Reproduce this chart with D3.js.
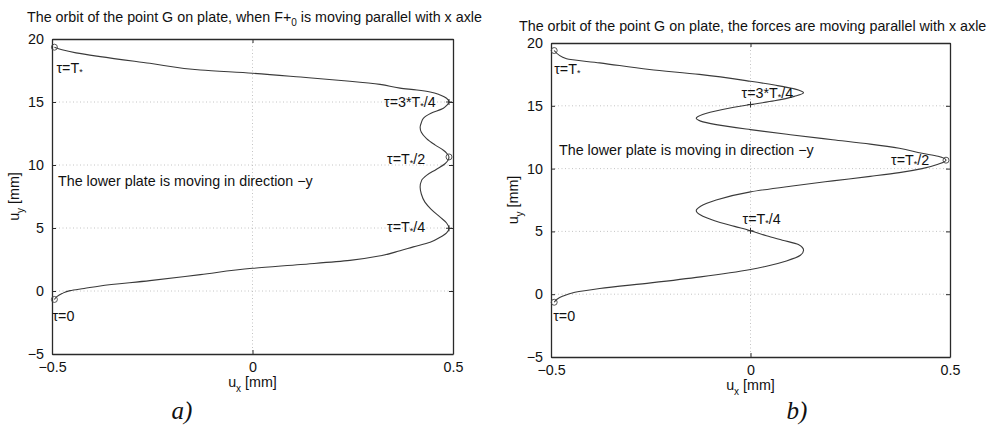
<!DOCTYPE html>
<html><head><meta charset="utf-8">
<script src="https://cdn.jsdelivr.net/npm/d3@7"></script>
<style>
  body { margin: 0; background: #fff; }
  svg { display: block; font-family: "Liberation Sans", Arial, Helvetica, sans-serif; }
</style></head>
<body>
<svg id="chart" width="989" height="432"></svg>
<script>
// Axis ticks shared by both plots
const xTicks = [-0.5, 0, 0.5];
const yTicks = [-5, 0, 5, 10, 15, 20];
const xDomain = [-0.5, 0.5];
const yDomain = [-5, 20];

// a) orbit of point G when F+0 moves parallel with the x axle
const orbitA_ux = [-0.494, -0.488, -0.475, -0.455, -0.42, -0.38, -0.256, -0.13, 0.0, 0.12, 0.243, 0.32, 0.368, 0.401, 0.443, 0.468, 0.484, 0.49,
  0.484, 0.468, 0.445, 0.43, 0.421, 0.418, 0.422, 0.434, 0.458, 0.48, 0.49,
  0.484, 0.476, 0.455, 0.434, 0.421, 0.418, 0.421, 0.426, 0.445, 0.476, 0.484, 0.49,
  0.484, 0.468, 0.443, 0.41, 0.368, 0.318, 0.243, 0.12, 0.0, -0.13, -0.256, -0.38, -0.44, -0.475, -0.494];
const orbitA_uy = [-0.67, -0.45, -0.2, 0.03, 0.2, 0.4, 0.82, 1.3, 1.8, 2.1, 2.43, 2.8, 3.2, 3.5, 3.87, 4.27, 4.62, 4.98,
  5.4, 5.86, 6.5, 7.05, 7.7, 8.25, 8.8, 9.18, 9.65, 10.1, 10.64,
  10.95, 11.17, 11.6, 12.1, 12.6, 13.0, 13.35, 13.7, 14.1, 14.5, 14.72, 15.0,
  15.3, 15.55, 15.8, 15.95, 16.1, 16.4, 16.65, 16.98, 17.28, 17.54, 18.07, 18.6, 18.9, 19.15, 19.35];

// b) orbit of point G when the forces move parallel with the x axle
const orbitB_ux = [-0.492, -0.485, -0.47, -0.44, -0.378, -0.25, -0.125, 0.0, 0.04, 0.09, 0.125, 0.133, 0.12, 0.08, 0.04, 0.0, -0.04, -0.09, -0.125, -0.136,
  -0.125, -0.086, 0.0, 0.1, 0.206, 0.3, 0.373, 0.43, 0.47, 0.49,
  0.47, 0.43, 0.373, 0.3, 0.206, 0.1, 0.0, -0.086, -0.125, -0.136, -0.12, -0.07, 0.0, 0.06, 0.11, 0.133,
  0.11, 0.06, 0.0, -0.128, -0.253, -0.378, -0.461, -0.492];
const orbitB_uy = [-0.64, -0.4, -0.15, 0.15, 0.45, 0.9, 1.38, 1.97, 2.23, 2.65, 3.1, 3.5, 3.95, 4.3, 4.65, 5.05, 5.4, 5.85, 6.3, 6.65,
  7.0, 7.5, 8.15, 8.6, 9.02, 9.38, 9.68, 10.0, 10.35, 10.67,
  10.98, 11.22, 11.62, 11.95, 12.3, 12.7, 13.1, 13.5, 13.78, 14.0, 14.3, 14.7, 15.1, 15.4, 15.75, 16.03,
  16.35, 16.65, 16.95, 17.5, 17.89, 18.42, 18.74, 19.4];

// Characteristic instants on each orbit: τ = 0, T*/4, T*/2, 3T*/4, T*
const eventsA = [
  { ux: -0.494, uy: -0.67, mark: "circle", label: ["τ=0"], dx: -2, dy: 22 },
  { ux: 0.49, uy: 4.98, mark: "plus", label: ["τ=T", "*", "/4"], dx: -62, dy: 4 },
  { ux: 0.49, uy: 10.64, mark: "circle", label: ["τ=T", "*", "/2"], dx: -62, dy: 7 },
  { ux: 0.49, uy: 15.0, mark: "plus", label: ["τ=3*T", "*", "/4"], dx: -65, dy: 5 },
  { ux: -0.494, uy: 19.35, mark: "circle", label: ["τ=T", "*", ""], dx: 2, dy: 26 }
];
const eventsB = [
  { ux: -0.492, uy: -0.64, mark: "circle", label: ["τ=0"], dx: -1, dy: 19 },
  { ux: 0.0, uy: 5.05, mark: "plus", label: ["τ=T", "*", "/4"], dx: -8, dy: -7 },
  { ux: 0.49, uy: 10.67, mark: "circle", label: ["τ=T", "*", "/2"], dx: -55, dy: 5 },
  { ux: 0.0, uy: 15.1, mark: "plus", label: ["τ=3*T", "*", "/4"], dx: -9, dy: -7 },
  { ux: -0.492, uy: 19.4, mark: "circle", label: ["τ=T", "*", ""], dx: 0, dy: 23 }
];

const FS = 14.3;
const svg = d3.select("#chart");

function drawPanel(p) {
  const x = d3.scaleLinear().domain(xDomain).range([p.left, p.right]);
  const y = d3.scaleLinear().domain(yDomain).range([p.bottom, p.top]);
  const g = svg.append("g");

  // dotted grid
  g.append("g").selectAll("line").data(xTicks.filter(t => t > xDomain[0] && t < xDomain[1])).join("line")
    .attr("x1", d => x(d)).attr("x2", d => x(d)).attr("y1", p.top).attr("y2", p.bottom)
    .attr("stroke", "#b5b5b5").attr("stroke-width", 0.8).attr("stroke-dasharray", "1,2.5");
  g.append("g").selectAll("line").data(yTicks.filter(t => t > yDomain[0] && t < yDomain[1])).join("line")
    .attr("x1", p.left).attr("x2", p.right).attr("y1", d => y(d)).attr("y2", d => y(d))
    .attr("stroke", "#b5b5b5").attr("stroke-width", 0.8).attr("stroke-dasharray", "1,2.5");

  // axes with inward ticks on all four sides
  const fmt = d => d3.format("")(d);
  const tk = 4;
  const axB = g.append("g").attr("transform", `translate(0,${p.bottom})`)
    .call(d3.axisBottom(x).tickValues(xTicks).tickSizeInner(-tk).tickSizeOuter(0).tickPadding(9).tickFormat(fmt));
  const axT = g.append("g").attr("transform", `translate(0,${p.top})`)
    .call(d3.axisTop(x).tickValues(xTicks).tickSizeInner(-tk).tickSizeOuter(0).tickFormat(""));
  const axL = g.append("g").attr("transform", `translate(${p.left},0)`)
    .call(d3.axisLeft(y).tickValues(yTicks).tickSizeInner(-tk).tickSizeOuter(0).tickPadding(8).tickFormat(fmt));
  const axR = g.append("g").attr("transform", `translate(${p.right},0)`)
    .call(d3.axisRight(y).tickValues(yTicks).tickSizeInner(-tk).tickSizeOuter(0).tickFormat(""));
  [axB, axT, axL, axR].forEach(a => {
    a.select(".domain").attr("stroke", "#2a2a2a").attr("stroke-width", 1.3);
    a.selectAll(".tick line").attr("stroke", "#2a2a2a").attr("stroke-width", 1);
    a.selectAll("text").attr("font-size", FS).attr("fill", "#111").attr("font-family", "inherit");
  });
  axB.selectAll("text").attr("dy", "0.6em");

  // orbit
  const pts = p.ux.map((v, i) => [v, p.uy[i]]);
  g.append("path").datum(pts)
    .attr("d", d3.line().x(d => x(d[0])).y(d => y(d[1])).curve(d3.curveMonotoneY))
    .attr("fill", "none").attr("stroke", "#3a3a3a").attr("stroke-width", 1.1);

  // event markers and labels
  p.events.forEach(e => {
    const cx = x(e.ux), cy = y(e.uy);
    if (e.mark === "circle") {
      g.append("circle").attr("cx", cx).attr("cy", cy).attr("r", 3)
        .attr("fill", "none").attr("stroke", "#444").attr("stroke-width", 0.9);
    } else {
      g.append("path").attr("d", `M${cx - 3},${cy}H${cx + 3}M${cx},${cy - 3}V${cy + 3}`)
        .attr("stroke", "#333").attr("stroke-width", 1);
    }
    const t = g.append("text").attr("x", cx + e.dx).attr("y", cy + e.dy)
      .attr("font-size", FS).attr("fill", "#111");
    t.append("tspan").text(e.label[0]);
    if (e.label.length > 1) {
      t.append("tspan").attr("font-size", 9).attr("dy", 2).text(e.label[1]);
      t.append("tspan").attr("dy", -2).text(e.label[2]);
    }
  });

  // annotation
  g.append("text").attr("x", p.noteX).attr("y", p.noteY).attr("font-size", FS).attr("fill", "#111")
    .text("The lower plate is moving in direction \u2212y");

  // title
  const tt = g.append("text").attr("x", p.titleX).attr("y", p.titleY).attr("font-size", FS).attr("fill", "#111");
  p.title.forEach(s => {
    const ts = tt.append("tspan").text(s.t);
    if (s.sub) ts.attr("font-size", 10).attr("dy", 4);
    if (s.back) ts.attr("dy", -4);
  });

  // axis labels
  const xl = g.append("text").attr("x", (p.left + p.right) / 2).attr("y", p.bottom + 33)
    .attr("text-anchor", "middle").attr("font-size", FS).attr("fill", "#111");
  xl.append("tspan").text("u");
  xl.append("tspan").attr("font-size", 10).attr("dy", 5).text("x");
  xl.append("tspan").attr("dy", -5).text(" [mm]");

  const yl = g.append("text").attr("transform", `translate(${p.left - 33},${(p.top + p.bottom) / 2}) rotate(-90)`)
    .attr("text-anchor", "middle").attr("font-size", FS).attr("fill", "#111");
  yl.append("tspan").text("u");
  yl.append("tspan").attr("font-size", 10).attr("dy", 5).text("y");
  yl.append("tspan").attr("dy", -5).text(" [mm]");

  // panel letter
  g.append("text").attr("x", p.letterX).attr("y", 419).attr("text-anchor", "middle")
    .attr("font-family", "'Liberation Serif', 'Times New Roman', serif").attr("font-style", "italic")
    .attr("font-size", 25).attr("fill", "#111").text(p.letter);
}

drawPanel({
  left: 52, right: 453, top: 39, bottom: 354,
  ux: orbitA_ux, uy: orbitA_uy, events: eventsA,
  noteX: 58, noteY: 186,
  titleX: 27, titleY: 22,
  title: [{ t: "The orbit of the point G on plate, when F+" }, { t: "0", sub: true }, { t: " is moving parallel with x axle", back: true }],
  letter: "a)", letterX: 182
});

drawPanel({
  left: 551, right: 950, top: 43, bottom: 357,
  ux: orbitB_ux, uy: orbitB_uy, events: eventsB,
  noteX: 559, noteY: 155,
  titleX: 519, titleY: 31,
  title: [{ t: "The orbit of the point G on plate, the forces are moving parallel with x axle" }],
  letter: "b)", letterX: 797
});
</script>
</body></html>
